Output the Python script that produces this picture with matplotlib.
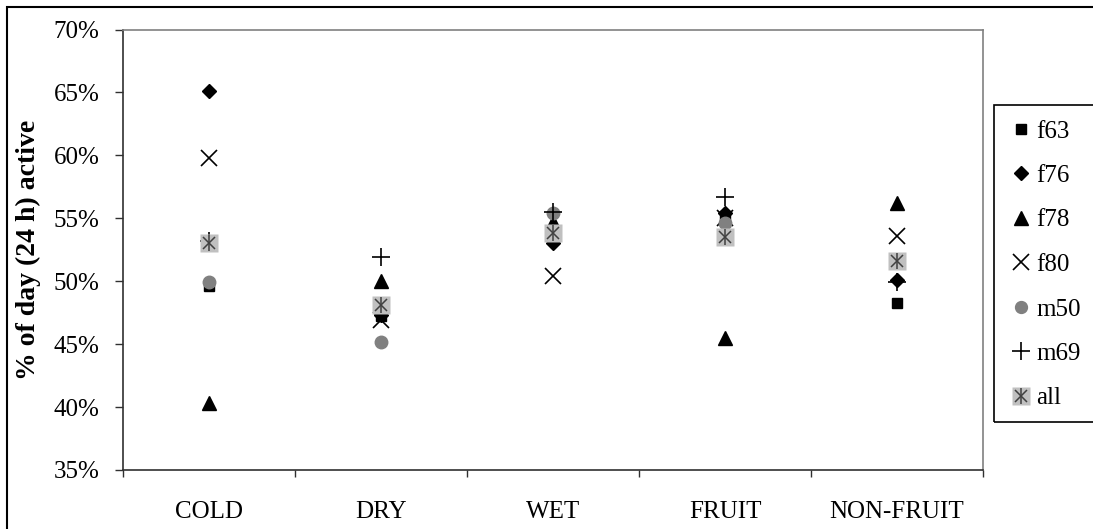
import matplotlib
matplotlib.use('Agg')
import matplotlib.pyplot as plt
import matplotlib.patches as mpatches
from matplotlib.ticker import FuncFormatter, FixedLocator

# categories and per-animal activity (% of 24 h)
categories = ['COLD', 'DRY', 'WET', 'FRUIT', 'NON-FRUIT']
f63 = [49.6, 47.2, 53.5, 55.2, 48.3]
f76 = [65.1, 47.3, 53.0, 55.4, 50.1]
f78 = [40.3, 50.0, 54.7, 45.5, 56.2]
f80 = [59.8, 46.9, 50.4, 55.0, 53.6]
m50 = [49.9, 45.2, 55.4, 54.6, 51.5]
m69 = [53.2, 51.9, 55.5, 56.7, 49.9]
all_ = [53.0, 48.1, 53.8, 53.5, 51.6]

SERIF = ['Liberation Serif', 'DejaVu Serif']
FS = 18
DARK = '#303030'
GRID_GREY = '#808080'

plt.rcParams['font.family'] = SERIF

fig = plt.figure(figsize=(10.93, 5.29), dpi=100)
W, H = 1093, 529
ax = fig.add_axes([123 / W, 1 - 470 / H, (983 - 123) / W, (470 - 29.5) / H])

xs = range(len(categories))
kw = dict(linestyle='none')
h63, = ax.plot(xs, f63, marker='s', markersize=7, color='black', **kw)
h76, = ax.plot(xs, f76, marker='D', markersize=7.5, color='black', **kw)
h78, = ax.plot(xs, f78, marker='^', markersize=10, color='black', **kw)
h80, = ax.plot(xs, f80, marker='x', markersize=12, markeredgewidth=1.2, color='black', **kw)
h50, = ax.plot(xs, m50, marker='o', markersize=9, color=GRID_GREY, **kw)
h69, = ax.plot(xs, m69, marker='+', markersize=13, markeredgewidth=1.2, color='black', **kw)
ha1, = ax.plot(xs, all_, marker='s', markersize=13, color='#c0c0c0', markeredgecolor='none', **kw)
ha2, = ax.plot(xs, all_, marker='x', markersize=9, markeredgewidth=1.1, color='#404040', **kw)
ha3, = ax.plot(xs, all_, marker='|', markersize=12, markeredgewidth=1.1, color='#404040', **kw)

ax.set_xlim(-0.5, len(categories) - 0.5)
ax.set_ylim(35, 70)
ax.set_yticks(range(35, 71, 5))
ax.yaxis.set_major_formatter(FuncFormatter(lambda v, p: f'{v:.0f}%'))
ax.set_xticks(list(xs))
ax.set_xticklabels(categories)
ax.xaxis.set_minor_locator(FixedLocator([i - 0.5 for i in range(len(categories) + 1)]))

ax.tick_params(axis='x', which='major', length=0, pad=22, labelsize=FS)
ax.tick_params(axis='x', which='minor', length=5, width=1, color=DARK, direction='out')
ax.tick_params(axis='y', length=5.8, width=1, color=DARK, pad=11, labelsize=FS, direction='out')

for side in ['left', 'bottom']:
    ax.spines[side].set_color(DARK)
    ax.spines[side].set_linewidth(1.2)
for side in ['top', 'right']:
    ax.spines[side].set_color(GRID_GREY)
    ax.spines[side].set_linewidth(1.2)

ax.set_ylabel('% of day (24 h) active', fontsize=20, fontweight='bold', labelpad=9)

# legend, frame drawn separately so it can run off the right edge
leg = fig.legend(
    [h63, h76, h78, h80, h50, h69, (ha1, ha2, ha3)],
    ['f63', 'f76', 'f78', 'f80', 'm50', 'm69', 'all'],
    loc='upper left', bbox_to_anchor=(994 / W, 1 - 105 / H), borderaxespad=0,
    frameon=False, fontsize=FS, handlelength=0.95, handletextpad=0.15,
    borderpad=0.6, labelspacing=0.88, markerscale=0.95)

fig.add_artist(mpatches.Rectangle((994 / W, 1 - 422 / H), 0.2, (422 - 105) / H,
                                  transform=fig.transFigure, facecolor='none',
                                  edgecolor='black', linewidth=1.2))
# outer chart border
fig.add_artist(mpatches.Rectangle((7 / W, -0.2), 1.2, 1.2 - 7 / H,
                                  transform=fig.transFigure, facecolor='none',
                                  edgecolor='black', linewidth=1.5))

fig.savefig('out.png', dpi=100, facecolor='white')
